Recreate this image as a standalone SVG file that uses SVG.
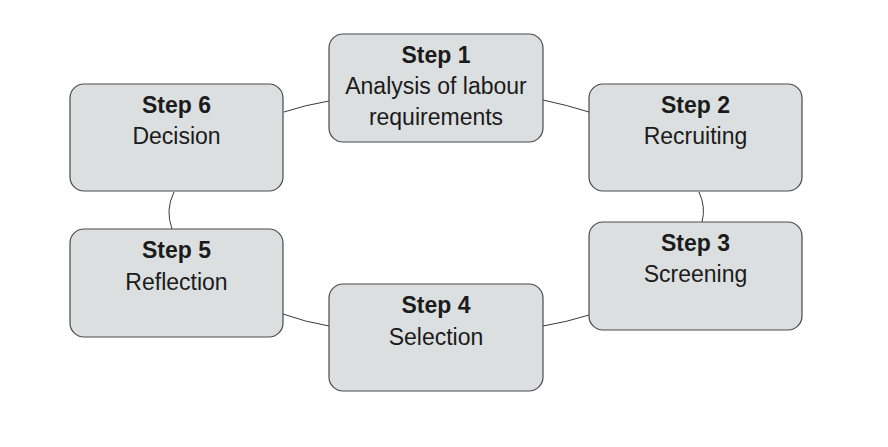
<svg xmlns="http://www.w3.org/2000/svg" width="888" height="447" viewBox="0 0 888 447">
<style>
.box{fill:#dcdfe0;stroke:#4a4a4a;stroke-width:1.2}
.t{font-family:"Liberation Sans",Arial,sans-serif;font-size:23px;fill:#1b1b1b;text-anchor:middle}
.b{font-weight:bold}
.c{fill:none;stroke:#3a3a3a;stroke-width:1}
</style>
<rect width="888" height="447" fill="#ffffff"/>
<g id="connectors">
<path class="c" d="M284,112 Q305,105 329,101"/>
<path class="c" d="M543,100 Q567,105 589,112"/>
<path class="c" d="M174,192 Q165,210 172,229"/>
<path class="c" d="M699,192 Q706,207 702,222"/>
<path class="c" d="M283,314 Q305,322 329,326"/>
<path class="c" d="M543,326 Q567,322 589,315"/>
</g>
<g id="step1">
<rect class="box" x="329" y="34" width="214" height="108" rx="14"/>
<text class="t b" x="436" y="63">Step 1</text>
<text class="t" x="436" y="94">Analysis of labour</text>
<text class="t" x="436" y="125">requirements</text>
</g>
<g id="step2">
<rect class="box" x="589" y="84" width="213" height="107" rx="14"/>
<text class="t b" x="695.5" y="113">Step 2</text>
<text class="t" x="695.5" y="144">Recruiting</text>
</g>
<g id="step3">
<rect class="box" x="589" y="222" width="213" height="108" rx="14"/>
<text class="t b" x="695.5" y="251">Step 3</text>
<text class="t" x="695.5" y="282">Screening</text>
</g>
<g id="step4">
<rect class="box" x="329" y="284" width="214" height="107" rx="14"/>
<text class="t b" x="436" y="313">Step 4</text>
<text class="t" x="436" y="345">Selection</text>
</g>
<g id="step5">
<rect class="box" x="70" y="229" width="213" height="108" rx="14"/>
<text class="t b" x="176.5" y="258">Step 5</text>
<text class="t" x="176.5" y="290">Reflection</text>
</g>
<g id="step6">
<rect class="box" x="70" y="84" width="213" height="107" rx="14"/>
<text class="t b" x="176.5" y="113">Step 6</text>
<text class="t" x="176.5" y="144">Decision</text>
</g>
</svg>
